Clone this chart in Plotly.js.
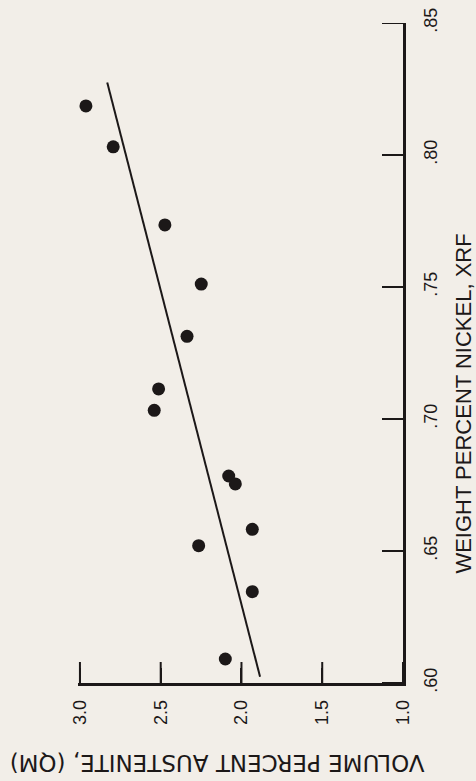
<!DOCTYPE html>
<html>
<head>
<meta charset="utf-8">
<script src="https://cdn.plot.ly/plotly-3.0.1.min.js"></script>
<style>
html,body{margin:0;padding:0;background:#f2eee8;}
#chart{width:476px;height:781px;}
</style>
</head>
<body>
<div id="chart"></div>
<script>
// Measured data (volume percent austenite vs weight percent nickel)
var austenite = [2.963, 2.794, 2.474, 2.249, 2.337, 2.513, 2.540, 2.079, 2.038, 1.933, 2.265, 1.933, 2.100];
var nickel    = [0.8186, 0.8031, 0.7735, 0.7511, 0.7313, 0.7114, 0.7033, 0.6784, 0.6754, 0.6582, 0.6520, 0.6346, 0.6091];

// Fitted line end points
var fitAustenite = [1.885, 2.831];
var fitNickel    = [0.6024, 0.8275];

// Tick labels
var austeniteTicks  = [3.0, 2.5, 2.0, 1.5, 1.0];
var austeniteLabels = ["3.0", "2.5", "2.0", "1.5", "1.0"];
var nickelTicks  = [0.60, 0.65, 0.70, 0.75, 0.80, 0.85];
var nickelLabels = [".60", ".65", ".70", ".75", ".80", ".85"];

var xTitle = "VOLUME PERCENT AUSTENITE, (QM)";
var yTitle = "WEIGHT PERCENT NICKEL, XRF";

var ink = "#1c1818";
var bg = "#f2eee8";

var xRange = [3.012, 1.0];
var yRange = [0.60, 0.85];

var tickFont = {family: "Liberation Sans, Arial, sans-serif", size: 18, color: ink};

var traces = [
  // inside tick marks, clipped to the plot area at the axis lines
  {
    x: austeniteTicks, y: austeniteTicks.map(function(){ return yRange[0]; }),
    type: "scatter", mode: "markers", cliponaxis: true,
    marker: {symbol: "line-ns", size: 30, color: ink, line: {color: ink, width: 2}},
    hoverinfo: "skip", showlegend: false
  },
  {
    x: nickelTicks.map(function(){ return xRange[1]; }), y: nickelTicks,
    type: "scatter", mode: "markers", cliponaxis: true,
    marker: {symbol: "line-ew", size: 30, color: ink, line: {color: ink, width: 2}},
    hoverinfo: "skip", showlegend: false
  },
  {
    x: fitAustenite, y: fitNickel, type: "scatter", mode: "lines",
    line: {color: ink, width: 2}, hoverinfo: "skip", showlegend: false
  },
  {
    x: austenite, y: nickel, type: "scatter", mode: "markers",
    marker: {color: ink, size: 13, line: {width: 0}}, showlegend: false
  }
];

var layout = {
  width: 476, height: 781,
  paper_bgcolor: bg, plot_bgcolor: bg,
  margin: {l: 78, r: 73, t: 23, b: 98},
  showlegend: false,
  xaxis: {
    range: xRange,
    showline: true, linewidth: 2.5, linecolor: ink,
    ticks: "inside", ticklen: 15, tickwidth: 2, tickcolor: ink,
    tickmode: "array", tickvals: austeniteTicks, ticktext: austeniteLabels,
    showgrid: false, zeroline: false,
    tickangle: -90, tickfont: tickFont, ticklabelstandoff: 7
  },
  yaxis: {
    side: "right", range: yRange,
    showline: true, linewidth: 2.5, linecolor: ink,
    ticks: "inside", ticklen: 15, tickwidth: 2, tickcolor: ink,
    tickmode: "array", tickvals: nickelTicks, ticktext: nickelLabels,
    showgrid: false, zeroline: false,
    tickangle: -90, tickfont: tickFont, ticklabelstandoff: 10
  },
  annotations: [
    {
      text: xTitle, xref: "paper", yref: "paper",
      x: 0.427, y: -0.121, xanchor: "center", yanchor: "middle",
      textangle: 180, showarrow: false,
      font: {family: "DejaVu Sans, sans-serif", size: 23, color: ink}
    },
    {
      text: yTitle, xref: "paper", yref: "paper",
      x: 1.186, y: 0.424, xanchor: "center", yanchor: "middle",
      textangle: -90, showarrow: false,
      font: {family: "Liberation Sans, Arial, sans-serif", size: 22, color: ink}
    }
  ]
};

Plotly.newPlot("chart", traces, layout, {displayModeBar: false});
</script>
</body>
</html>
